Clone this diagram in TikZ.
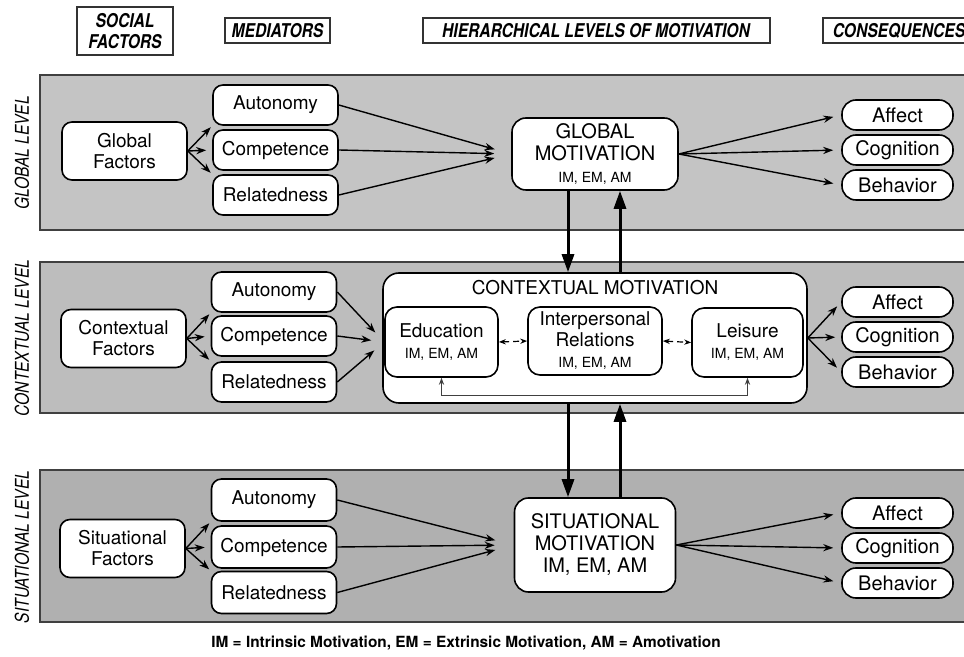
\documentclass[tikz,border=0pt]{standalone}
\usepackage{fontspec}
\setmainfont{TeX Gyre Heros}
\newfontfamily\headfont[FakeStretch=0.82]{TeX Gyre Heros}
\usetikzlibrary{arrows.meta}
\newcommand{\motsmall}{\fontsize{7}{8}\selectfont}

\begin{document}
\begin{tikzpicture}[x=0.5pt, y=-0.5pt,
bandbox/.style={draw=black!75, line width=0.8pt},
roundbox/.style={rectangle, rounded corners=5pt, draw, fill=white, line width=0.8pt, align=center, inner sep=1pt, font=\fontsize{9.5}{10.5}\selectfont},
factorbox/.style={roundbox, minimum width=62.5pt, minimum height=29pt},
mediatorbox/.style={roundbox, minimum width=62.5pt, minimum height=20pt},
consbox/.style={roundbox, rounded corners=7pt, minimum width=55.5pt, minimum height=15pt, inner sep=0pt, font=\fontsize{10}{11}\selectfont},
motbox/.style={roundbox, rounded corners=7pt, font=\fontsize{10}{11}\selectfont},
domainbox/.style={roundbox, rounded corners=6pt},
headbox/.style={rectangle, draw=black!80, line width=1pt, align=center, inner sep=1pt, font=\headfont\bfseries\itshape\fontsize{9.5}{10.5}\selectfont},
levellabel/.style={rotate=90, font=\headfont\itshape\fontsize{9.5}{10}\selectfont},
conn/.style={-{Stealth[length=5pt, width=3.6pt]}, line width=0.7pt},
thickconn/.style={-{Triangle[length=9pt, width=6pt]}, line width=1.5pt},
dashconn/.style={{Stealth[length=3.5pt]}-{Stealth[length=3.5pt]}, densely dashed, line width=0.6pt},
loopconn/.style={{Stealth[length=3.5pt]}-{Stealth[length=3.5pt]}, line width=0.5pt, black!75},
]
\useasboundingbox (0,0) rectangle (964,657);
\clip (0,0) rectangle (964,657);

%Bands
\draw[bandbox, fill=black!23] (40,75) rectangle (980,230);
\draw[bandbox, fill=black!26] (40,262) rectangle (980,413);
\draw[bandbox, fill=black!31] (40,470) rectangle (980,622);

%Headers
\node[headbox, minimum width=48pt, minimum height=24pt]    at (125,31)   (socfac)      [] {SOCIAL\\FACTORS};
\node[headbox, minimum width=52.5pt, minimum height=12.5pt] at (277.5,30.5) (mediators) [] {MEDIATORS};
\node[headbox, minimum width=173.5pt, minimum height=12.5pt] at (596,31)  (hierlevels)  [] {HIERARCHICAL LEVELS OF MOTIVATION};
\node[headbox, minimum width=76pt, minimum height=12.5pt]  at (899,31)   (conseq)      [] {CONSEQUENCES};

\node[levellabel] at (22,153)  (glevel) [] {GLOBAL LEVEL};
\node[levellabel] at (22,338)  (clevel) [] {CONTEXTUAL LEVEL};
\node[levellabel] at (22,547)  (slevel) [] {SITUATIONAL LEVEL};

%Nodes global
\node[factorbox]    at (124.5,151)  (gfac)   [] {Global\\Factors};
\node[mediatorbox]  at (275.5,105)  (gaut)   [] {Autonomy};
\node[mediatorbox]  at (275.5,150)  (gcom)   [] {Competence};
\node[mediatorbox]  at (275.5,195)  (grel)   [] {Relatedness};
\node[motbox, minimum width=83pt, minimum height=36pt] at (595,154) (gmot) [] {GLOBAL\\MOTIVATION\\{\motsmall IM, EM, AM}};
\node[consbox]      at (897.5,115)  (gaff)   [] {Affect};
\node[consbox]      at (897.5,150)  (gcog)   [] {Cognition};
\node[consbox]      at (897.5,185)  (gbeh)   [] {Behavior};

%Nodes contextual
\node[factorbox]    at (123.5,338.5) (cfac)  [] {Contextual\\Factors};
\node[mediatorbox]  at (274,292)     (caut)  [] {Autonomy};
\node[mediatorbox]  at (274,336)     (ccom)  [] {Competence};
\node[mediatorbox]  at (274,382)     (crel)  [] {Relatedness};
\node[domainbox, rounded corners=8pt, minimum width=212pt, minimum height=65pt] at (595,338) (ctx) [] {};
\node[font=\fontsize{9.5}{10.5}\selectfont] at (595,288) (ctxtitle) [] {CONTEXTUAL MOTIVATION};
\node[domainbox, minimum width=56.5pt, minimum height=35pt] at (441.5,342) (edu)  [] {Education\\{\motsmall IM, EM, AM}};
\node[domainbox, minimum width=67pt, minimum height=34pt]   at (595,341)   (intp) [] {Interpersonal\\Relations\\{\motsmall IM, EM, AM}};
\node[domainbox, minimum width=55.5pt, minimum height=34.5pt] at (747.5,342.5) (leis) [] {Leisure\\{\motsmall IM, EM, AM}};
\node[consbox]      at (897.5,302)  (caff)   [] {Affect};
\node[consbox]      at (897.5,337)  (ccog)   [] {Cognition};
\node[consbox]      at (897.5,372)  (cbeh)   [] {Behavior};

%Nodes situational
\node[factorbox]    at (122.5,548.5) (sfac)  [] {Situational\\Factors};
\node[mediatorbox, minimum height=21pt]  at (274,500)   (saut)  [] {Autonomy};
\node[mediatorbox, minimum height=21pt]  at (274,547)   (scom)  [] {Competence};
\node[mediatorbox, minimum height=21pt]  at (274,592.5) (srel)  [] {Relatedness};
\node[motbox, minimum width=80.5pt, minimum height=47pt] at (595,545) (smot) [] {SITUATIONAL\\MOTIVATION\\IM, EM, AM};
\node[consbox]      at (897.5,513)  (saff)   [] {Affect};
\node[consbox]      at (897.5,548)  (scog)   [] {Cognition};
\node[consbox]      at (897.5,583)  (sbeh)   [] {Behavior};

\node[font=\bfseries\fontsize{7.7}{9}\selectfont] at (466,643) (legend) [] {IM = Intrinsic Motivation, EM = Extrinsic Motivation, AM = Amotivation};

%Lines global
\draw[conn, shorten >=1pt] (gfac.east) -- (gaut.south west);
\draw[conn, shorten >=3pt] (gfac.east) -- (gcom.west);
\draw[conn, shorten >=1pt] (gfac.east) -- (grel.north west);
\draw[conn, shorten >=8.5pt] (gaut.east) -- (gmot.west);
\draw[conn, shorten >=8.5pt] (gcom.east) -- (gmot.west);
\draw[conn, shorten >=8.5pt] (grel.east) -- (gmot.west);
\draw[conn, shorten >=4pt] (gmot.east) -- (gaff.west);
\draw[conn, shorten >=4pt] (gmot.east) -- (gcog.west);
\draw[conn, shorten >=4pt] (gmot.east) -- (gbeh.west);

%Lines contextual
\draw[conn, shorten >=1pt] (cfac.east) -- (caut.south west);
\draw[conn, shorten >=3pt] (cfac.east) -- (ccom.west);
\draw[conn, shorten >=1pt] (cfac.east) -- (crel.north west);
\draw[conn, shorten >=6.5pt] (caut.east) -- (edu.west);
\draw[conn, shorten >=6.5pt] (ccom.east) -- (edu.west);
\draw[conn, shorten >=6.5pt] (crel.east) -- (edu.west);
\draw[dashconn] (edu.east) -- (intp.west);
\draw[dashconn] (intp.east) -- (leis.west);
\draw[loopconn] (edu.south) -- ++(0,18) -| (leis.south);
\draw[conn, shorten >=3pt] (ctx.east) -- (caff.west);
\draw[conn, shorten >=3pt] (ctx.east) -- (ccog.west);
\draw[conn, shorten >=3pt] (ctx.east) -- (cbeh.west);

%Lines situational
\draw[conn, shorten >=1pt] (sfac.east) -- (saut.south west);
\draw[conn, shorten >=3pt] (sfac.east) -- (scom.west);
\draw[conn, shorten >=1pt] (sfac.east) -- (srel.north west);
\draw[conn, shorten >=9.5pt] (saut.east) -- (smot.west);
\draw[conn, shorten >=9.5pt] (scom.east) -- (smot.west);
\draw[conn, shorten >=9.5pt] (srel.east) -- (smot.west);
\draw[conn, shorten >=4pt] (smot.east) -- (saff.west);
\draw[conn, shorten >=4pt] (smot.east) -- (scog.west);
\draw[conn, shorten >=4pt] (smot.east) -- (sbeh.west);

%Between levels
\draw[thickconn] ([xshift=-13.5pt]gmot.south) -- ([xshift=-13.5pt]ctx.north);
\draw[thickconn] ([xshift=12.5pt]ctx.north) -- ([xshift=12.5pt]gmot.south);
\draw[thickconn] ([xshift=-13.5pt]ctx.south) -- ([xshift=-13.5pt]smot.north);
\draw[thickconn] ([xshift=12.5pt]smot.north) -- ([xshift=12.5pt]ctx.south);

\end{tikzpicture}
\end{document}
